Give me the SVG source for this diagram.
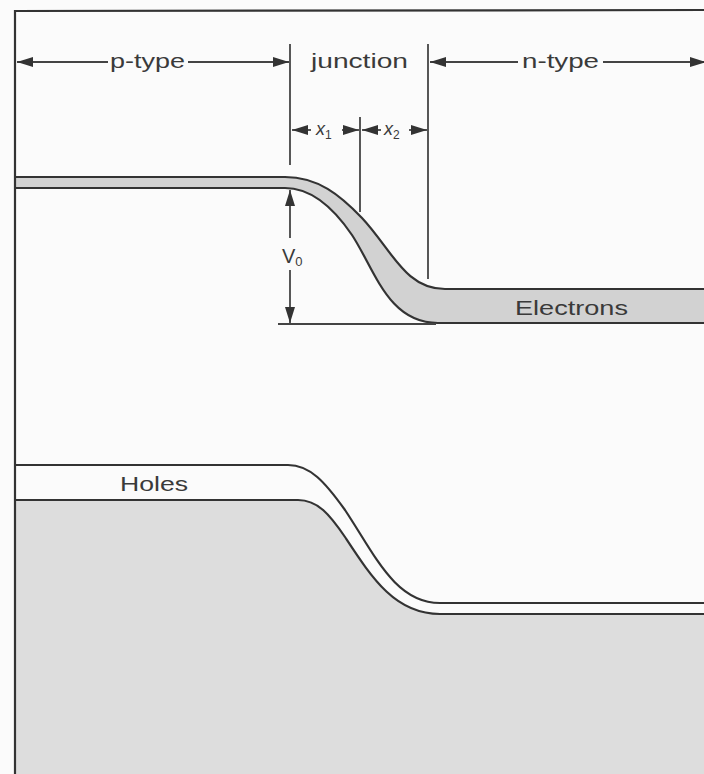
<svg xmlns="http://www.w3.org/2000/svg" width="704" height="774" viewBox="0 0 704 774">
<style>
.ln{fill:none;stroke:#333;stroke-width:2.2}
.thin{fill:none;stroke:#444;stroke-width:1.8}
.lbl{font-family:"Liberation Sans",Arial,sans-serif;font-size:20px;fill:#3a3a3a}
.it{font-family:"Liberation Sans",Arial,sans-serif;font-style:italic;font-size:18px;fill:#3a3a3a}
</style>
<defs>
<marker id="ah" viewBox="0 0 16 10" refX="16" refY="5" markerWidth="16" markerHeight="10" markerUnits="userSpaceOnUse" orient="auto-start-reverse">
<path d="M0,0 L16,5 L0,10 z" fill="#333"/>
</marker>
</defs>
<rect width="704" height="774" fill="#fbfbfb"/>
<g id="holes-region">
<path d="M15,500 L298,500 C318,500 330,515 345,537 C372,578 395,614 440,614 L704,614 L704,774 L15,774 Z" fill="#dddddd"/>
<path class="ln" d="M15,465 L288,465 C310,465 325,482 345,510 C375,555 395,603 440,603 L704,603"/>
<path class="ln" d="M15,500 L298,500 C318,500 330,515 345,537 C372,578 395,614 440,614 L704,614"/>
<text class="lbl" x="120" y="491" font-size="21" textLength="68" lengthAdjust="spacingAndGlyphs">Holes</text>
</g>
<g id="electron-band">
<path d="M15,177 L285,177 C318,177 340,195 362,218 C392,250 405,289 445,289 L704,289 L704,323 L438,323 C388,323 375,270 352,235 C335,210 312,188 285,188 L15,188 Z" fill="#d2d2d2"/>
<path class="ln" d="M15,177 L285,177 C318,177 340,195 362,218 C392,250 405,289 445,289 L704,289"/>
<path class="ln" d="M15,188 L285,188 C312,188 335,210 352,235 C375,270 388,323 438,323 L704,323"/>
<text class="lbl" x="515" y="315" textLength="113" lengthAdjust="spacingAndGlyphs">Electrons</text>
</g>
<g id="frame">
<path class="ln" d="M15,774 L15,11 L704,10" stroke-width="2.6"/>
</g>
<g id="labels">
<text class="lbl" x="110" y="68" textLength="75" lengthAdjust="spacingAndGlyphs">p-type</text>
<text class="lbl" x="311" y="68" textLength="97" lengthAdjust="spacingAndGlyphs">junction</text>
<text class="lbl" x="522" y="68" textLength="77" lengthAdjust="spacingAndGlyphs">n-type</text>
<text class="it" x="316" y="135">x<tspan font-size="12" dy="4" font-style="normal">1</tspan></text>
<text class="it" x="384" y="135">x<tspan font-size="12" dy="4" font-style="normal">2</tspan></text>
<text class="lbl" x="282" y="263" font-size="22">V<tspan font-size="13" dy="3">0</tspan></text>
</g>
<g id="connectors">
<line class="thin" x1="290" y1="44" x2="290" y2="165"/>
<line class="thin" x1="428" y1="44" x2="428" y2="279"/>
<line class="thin" x1="360" y1="117" x2="360" y2="212"/>
<line class="thin" x1="278" y1="324" x2="436" y2="324"/>
<line class="thin" x1="108" y1="62" x2="17" y2="62" marker-end="url(#ah)"/>
<line class="thin" x1="188" y1="62" x2="289" y2="62" marker-end="url(#ah)"/>
<line class="thin" x1="518" y1="62" x2="430" y2="62" marker-end="url(#ah)"/>
<line class="thin" x1="603" y1="62" x2="706" y2="62" marker-end="url(#ah)"/>
<line class="thin" x1="311" y1="130" x2="292" y2="130" marker-end="url(#ah)"/>
<line class="thin" x1="342" y1="130" x2="359" y2="130" marker-end="url(#ah)"/>
<line class="thin" x1="381" y1="130" x2="362" y2="130" marker-end="url(#ah)"/>
<line class="thin" x1="409" y1="130" x2="427" y2="130" marker-end="url(#ah)"/>
<line class="thin" x1="290" y1="238" x2="290" y2="190" marker-end="url(#ah)"/>
<line class="thin" x1="290" y1="270" x2="290" y2="323" marker-end="url(#ah)"/>
</g>
</svg>
